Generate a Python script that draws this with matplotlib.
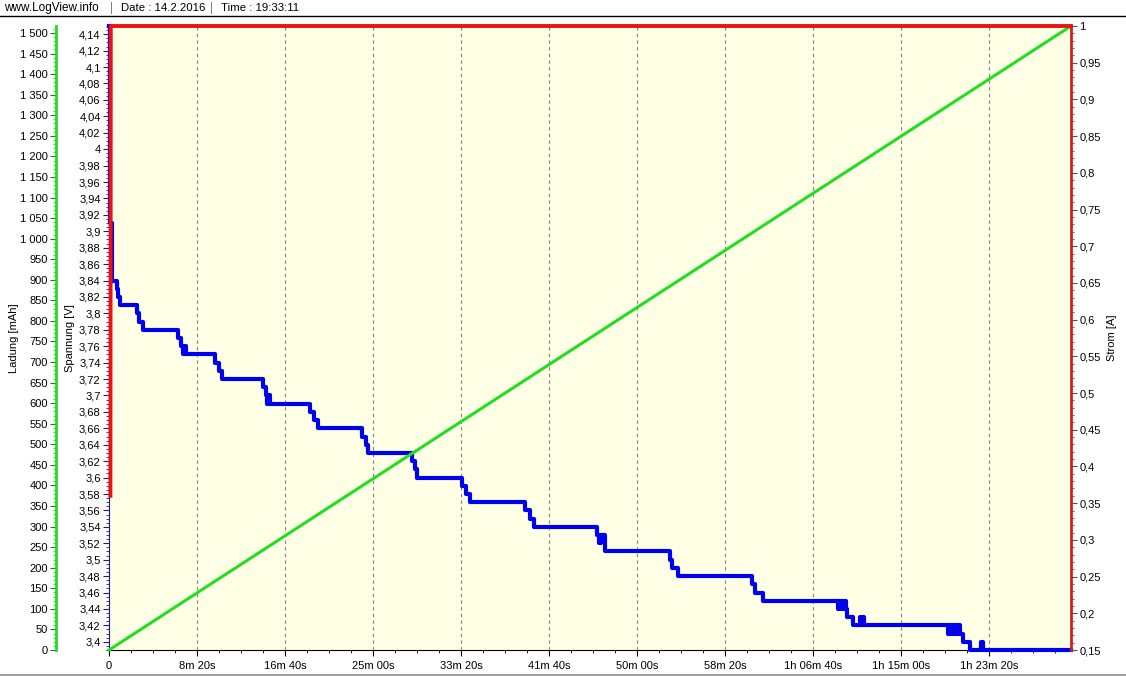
import matplotlib
matplotlib.use("Agg")
import matplotlib.pyplot as plt
from matplotlib.ticker import MultipleLocator, FuncFormatter
from matplotlib.lines import Line2D

plt.rcParams['font.family'] = ['Liberation Sans', 'DejaVu Sans']
plt.rcParams['font.size'] = 8

# --- data (time in seconds) ---
volt_t = [0, 3, 6, 15, 45, 51, 62, 159, 170, 193, 392, 409, 420, 424, 428, 432, 436, 440,
          602, 625, 642, 875, 892, 900, 906, 915, 1142, 1165, 1188, 1438, 1460, 1472,
          1722, 1739, 1750, 2006, 2028, 2051, 2364, 2392, 2415, 2773, 2785, 2795, 2818,
          3188, 3200, 3216, 3233, 3654, 3668, 3682, 3716,
          4142, 4150, 4158, 4166, 4174, 4182, 4190, 4193, 4227, 4267, 4272, 4284, 4290,
          4767, 4778, 4790, 4800, 4812, 4824, 4836, 4852, 4892, 4955, 4966, 5466]
volt_v = [4.15, 4.08, 3.91, 3.84, 3.83, 3.82, 3.81, 3.80, 3.79, 3.78, 3.77, 3.76, 3.75, 3.76, 3.75, 3.76, 3.75, 3.75,
          3.74, 3.73, 3.72, 3.71, 3.70, 3.69, 3.70, 3.69, 3.68, 3.67, 3.66, 3.65, 3.64, 3.63,
          3.62, 3.61, 3.60, 3.59, 3.58, 3.57, 3.56, 3.55, 3.54, 3.53, 3.52, 3.53, 3.51,
          3.50, 3.49, 3.49, 3.48, 3.47, 3.46, 3.46, 3.45,
          3.44, 3.45, 3.44, 3.45, 3.44, 3.45, 3.44, 3.43, 3.42, 3.43, 3.42, 3.43, 3.42,
          3.41, 3.42, 3.41, 3.42, 3.41, 3.42, 3.41, 3.40, 3.39, 3.40, 3.39, 3.39]

strom_t = [8, 10, 5466]
strom_a = [0.36, 1.0, 1.0]

ladung_t = [0, 5466]
ladung_mah = [0, 1517]

x_max = 5466

W, H = 1126, 676
fig = plt.figure(figsize=(W / 100, H / 100), dpi=100)
left, right, bottom, top = 109, 1071, 650, 26
ax = fig.add_axes([left / W, 1 - bottom / H, (right - left) / W, (bottom - top) / H])
ax.set_facecolor('#FFFFE6')

ax_q = ax.twinx()
ax_i = ax.twinx()


def fmt_num(v, pos=None):
    return f"{v:.2f}".rstrip('0').rstrip('.').replace('.', ',')


def fmt_q(v, pos=None):
    return f"{int(round(v)):,}".replace(',', ' ')


def fmt_time(v, pos=None):
    s = int(round(v))
    if s == 0:
        return "0"
    h, m, sec = s // 3600, (s % 3600) // 60, s % 60
    if h:
        return f"{h}h {m:02d}m {sec:02d}s"
    return f"{m}m {sec:02d}s"


# voltage (main)
ax.step(volt_t, volt_v, where='post', color='#0000EE', lw=3, clip_on=False, zorder=3)
ax.set_ylim(3.39, 4.15)
ax.set_xlim(0, x_max)
ax.yaxis.set_major_locator(MultipleLocator(0.02))
ax.yaxis.set_minor_locator(MultipleLocator(0.005))
ax.yaxis.set_major_formatter(FuncFormatter(fmt_num))
ax.xaxis.set_major_locator(MultipleLocator(500))
ax.xaxis.set_minor_locator(MultipleLocator(125))
ax.xaxis.set_major_formatter(FuncFormatter(fmt_time))
ax.grid(axis='x', which='major', color='#808080', linestyle=(0, (3, 3)), lw=0.8)
ax.set_ylabel("Spannung [V]")
ax.yaxis.set_label_coords((75 - left) / (right - left), 0.5)
for s in ['top', 'right']:
    ax.spines[s].set_visible(False)
ax.spines['left'].set_color('#1a1a9a')
ax.spines['bottom'].set_color('black')
ax.tick_params(axis='y', which='major', length=4, width=0.8, pad=2, colors='#1a1a9a', labelcolor='black')
ax.tick_params(axis='y', which='minor', length=2, width=0.6, colors='#1a1a9a')
ax.tick_params(axis='x', which='major', length=4, width=0.8, pad=4)
ax.tick_params(axis='x', which='minor', length=2, width=0.6)

# charge (outer left)
ax_q.plot(ladung_t, ladung_mah, color='#22DD22', lw=2.2, clip_on=False, zorder=4)
ax_q.set_ylim(0, 1517)
ax_q.yaxis.tick_left()
ax_q.yaxis.set_label_position('left')
ax_q.spines['left'].set_position(('axes', (56 - left) / (right - left)))
ax_q.spines['left'].set_color('#22DD22')
ax_q.spines['left'].set_linewidth(2)
for s in ['top', 'right', 'bottom']:
    ax_q.spines[s].set_visible(False)
ax_q.yaxis.set_major_locator(MultipleLocator(50))
ax_q.yaxis.set_minor_locator(MultipleLocator(10))
ax_q.yaxis.set_major_formatter(FuncFormatter(fmt_q))
ax_q.tick_params(axis='y', which='major', length=4, width=0.8, pad=2, colors='#555555', labelcolor='black')
ax_q.tick_params(axis='y', which='minor', length=2, width=0.6, colors='#22DD22')
ax_q.set_ylabel("Ladung [mAh]")
ax_q.yaxis.set_label_coords((19 - left) / (right - left), 0.5)

# current (right)
ax_i.plot(strom_t, strom_a, color='#EE1111', lw=2.8, clip_on=False, zorder=5)
ax_i.set_ylim(0.15, 1.0)
for s in ['top', 'left', 'bottom']:
    ax_i.spines[s].set_visible(False)
ax_i.spines['right'].set_color('#CC2222')
ax_i.spines['right'].set_linewidth(2)
ax_i.yaxis.set_major_locator(MultipleLocator(0.05))
ax_i.yaxis.set_minor_locator(MultipleLocator(0.01))
ax_i.yaxis.set_major_formatter(FuncFormatter(fmt_num))
ax_i.tick_params(axis='y', which='major', length=4, width=0.8, pad=2, colors='#555555', labelcolor='black')
ax_i.tick_params(axis='y', which='minor', length=2, width=0.6, colors='#CC2222')
ax_i.set_ylabel("Strom [A]")
ax_i.yaxis.set_label_coords((1107 - left) / (right - left), 0.5)

# header
fig.text(4 / W, 1 - 8 / H, "www.LogView.info", va='center', ha='left', fontsize=8.5)
fig.text(110 / W, 1 - 8 / H, "|", va='center', ha='left', fontsize=8.5, color='#808080')
fig.text(121 / W, 1 - 8 / H, "Date : 14.2.2016", va='center', ha='left', fontsize=8.2)
fig.text(210 / W, 1 - 8 / H, "|", va='center', ha='left', fontsize=8.5, color='#808080')
fig.text(221 / W, 1 - 8 / H, "Time : 19:33:11", va='center', ha='left', fontsize=8.2)
fig.add_artist(Line2D([0, 1], [1 - 16 / H, 1 - 16 / H], color='black', lw=1))
fig.add_artist(Line2D([0, 1], [1.5 / H, 1.5 / H], color='#A0A0A0', lw=1.5))

plt.savefig("out.png", dpi=100)
